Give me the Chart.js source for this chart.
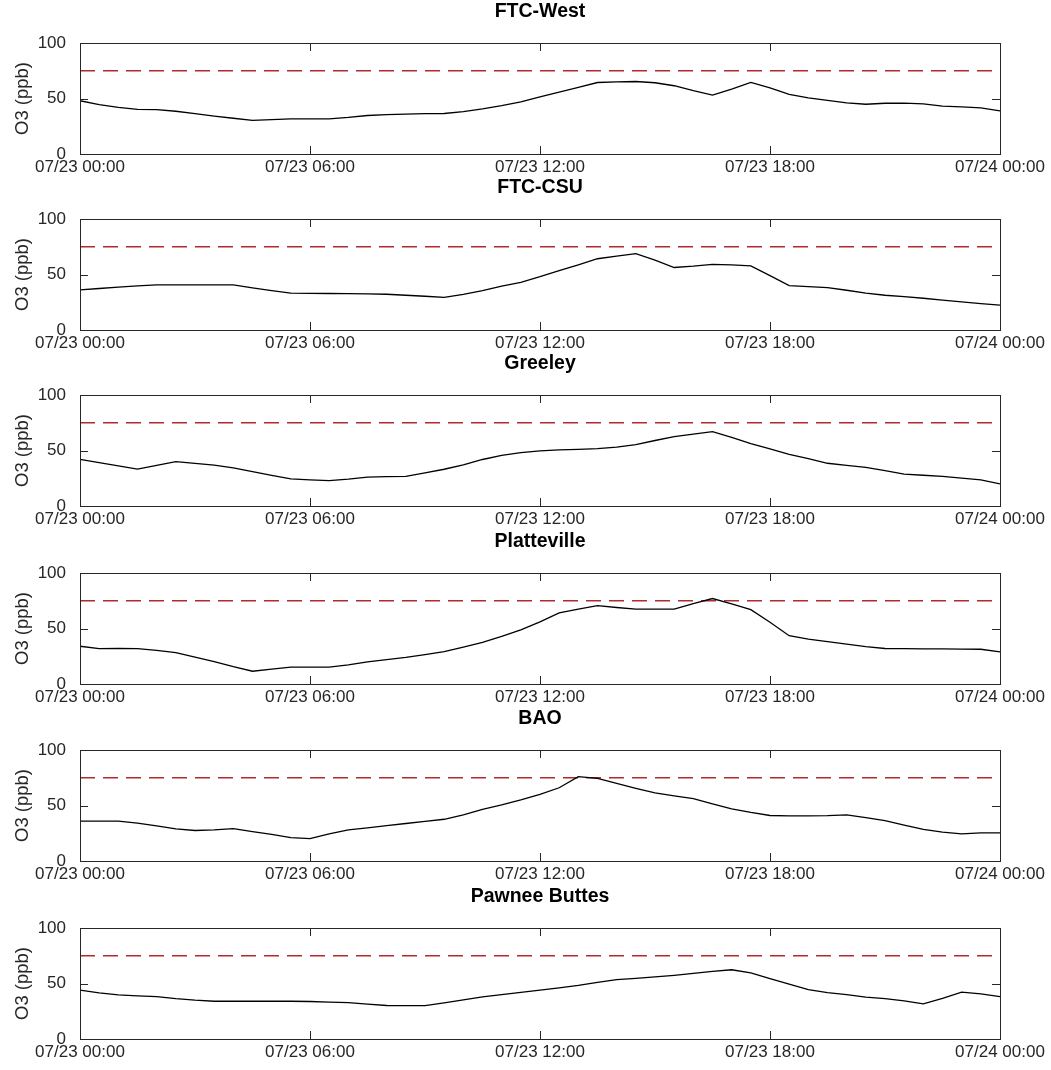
<!DOCTYPE html>
<html>
<head>
<meta charset="utf-8">
<script src="https://cdn.jsdelivr.net/npm/chart.js@4.4.1/dist/chart.umd.min.js"></script>
<style>
    body { margin: 0; background: #fff; }
    #page { position: relative; width: 1051px; height: 1070px; overflow: hidden; }
    .panel { position: absolute; left: 0; width: 1051px; height: 177px; }
</style>
</head>
<body>
<div id="page"></div>
<script>
// time of day in hours, 07/23 00:00 .. 07/24 00:00
const hours = [0, 0.5, 1, 1.5, 2, 2.5, 3, 3.5, 4, 4.5, 5, 5.5, 6, 6.5, 7, 7.5, 8, 8.5, 9, 9.5,
    10, 10.5, 11, 11.5, 12, 12.5, 13, 13.5, 14, 14.5, 15, 15.5, 16, 16.5, 17, 17.5, 18, 18.5, 19, 19.5,
    20, 20.5, 21, 21.5, 22, 22.5, 23, 23.5, 24];

const stations = ['FTC-West', 'FTC-CSU', 'Greeley', 'Platteville', 'BAO', 'Pawnee Buttes'];

// O3 (ppb)
const ftcWest = [48, 44.5, 42, 40.2, 39.9, 38.5, 36.3, 34.2, 32.2, 30.3, 31, 31.7, 31.7, 31.7, 33, 34.7, 35.4, 36, 36.3, 36.5,
    38.2, 40.6, 43.5, 47, 51.5, 55.8, 60, 64.4, 65, 65.3, 64.2, 61.5, 57, 53, 58.5, 64.5, 59.5, 53.7, 50.5, 48.3,
    46, 44.8, 45.7, 45.8, 45.2, 43.2, 42.4, 41.5, 38.8];
const ftcCsu = [36.2, 37.4, 38.6, 39.8, 40.6, 40.6, 40.6, 40.6, 40.6, 38, 35.5, 33.2, 33, 32.9, 32.7, 32.5, 32.2, 31.3, 30.4, 29.4,
    32, 35.5, 39.5, 43, 48, 53.5, 58.7, 64.2, 66.6, 68.8, 63, 56.3, 57.5, 59.2, 58.6, 57.7, 49, 40, 39, 38.1,
    35.8, 33.2, 31.3, 30, 28.6, 27, 25.3, 23.8, 22.4];
const greeley = [42, 39, 36.2, 33.3, 36.7, 40, 38.4, 36.8, 34.3, 30.9, 27.6, 24.5, 23.5, 22.8, 24.2, 26, 26.4, 26.7, 29.8, 33.1,
    37, 41.9, 45.7, 48, 49.7, 50.5, 51, 51.7, 53, 55.3, 59, 62.5, 64.8, 67, 61.8, 56.3, 51.4, 46.6, 42.6, 38.5,
    36.6, 34.8, 31.8, 28.8, 27.7, 26.6, 25.1, 23.6, 20];
const platteville = [34, 31.9, 32, 31.8, 30.3, 28.3, 24.2, 20.2, 15.6, 11.5, 13.4, 15.2, 15.2, 15.2, 17.2, 19.9, 22, 24, 26.5, 29.1,
    33.3, 37.5, 43, 48.7, 56, 64, 67.4, 70.6, 68.9, 67.5, 67.5, 67.5, 72.3, 77, 72.1, 67, 55.7, 43.5, 40.4, 38.1,
    35.9, 33.7, 32, 31.8, 31.7, 31.6, 31.4, 31.3, 29];
const bao = [36, 36, 36, 34.2, 31.6, 28.9, 27.5, 28, 29.2, 26.5, 23.9, 21, 20.1, 24.5, 28, 29.9, 31.9, 33.8, 35.7, 37.6,
    41.5, 46.5, 50.5, 55, 60, 66, 76, 74.5, 70, 65.5, 61.3, 58.7, 56.2, 51.4, 47, 43.8, 41, 40.7, 40.7, 40.8,
    41.5, 39, 36.3, 32.4, 28.4, 26, 24.5, 25.3, 25.3];
const pawnee = [44, 41.5, 39.7, 38.9, 38.2, 36.4, 35, 34, 34, 34, 34, 34, 33.8, 33.3, 32.8, 31.5, 30.2, 30, 30, 32.5,
    35.3, 37.9, 40, 42, 44, 46, 48.3, 51, 53.5, 54.7, 55.9, 57.4, 59.2, 60.9, 62.4, 59.6, 54.4, 49.5, 44.5, 41.8,
    40, 37.8, 36.3, 34.4, 31.7, 36.5, 42.3, 40.6, 38.2];

const series = [ftcWest, ftcCsu, greeley, platteville, bao, pawnee];
const threshold = 75;

const xTicks = [0, 6, 12, 18, 24];
const xTickLabels = ['07/23 00:00', '07/23 06:00', '07/23 12:00', '07/23 18:00', '07/24 00:00'];
const yTicks = [0, 50, 100];

const FONT = "'Liberation Sans', Arial, sans-serif";
const INK = '#262626';
const panelTops = [0, 176, 352, 530, 707, 885];

// box, inward tick marks and a title centred over the plot box
const framePlugin = {
    id: 'frame',
    afterDatasetsDraw(chart, args, opts) {
        const { ctx, chartArea: a, scales: { x, y } } = chart;
        const len = 8;
        ctx.save();
        ctx.strokeStyle = INK;
        ctx.lineWidth = 1;
        ctx.strokeRect(Math.round(a.left) + 0.5, Math.round(a.top) + 0.5,
            Math.round(a.right - a.left), Math.round(a.bottom - a.top));
        ctx.beginPath();
        x.ticks.forEach(t => {
            const px = Math.round(x.getPixelForValue(t.value)) + 0.5;
            ctx.moveTo(px, a.top); ctx.lineTo(px, a.top + len);
            ctx.moveTo(px, a.bottom); ctx.lineTo(px, a.bottom - len);
        });
        y.ticks.forEach(t => {
            const py = Math.round(y.getPixelForValue(t.value)) + 0.5;
            ctx.moveTo(a.left, py); ctx.lineTo(a.left + len, py);
            ctx.moveTo(a.right, py); ctx.lineTo(a.right - len, py);
        });
        ctx.stroke();

        ctx.fillStyle = '#000';
        ctx.font = `bold 19.5px ${FONT}`;
        ctx.textAlign = 'center';
        ctx.textBaseline = 'middle';
        ctx.fillText(opts.text, (a.left + a.right) / 2, a.top - 31);
        ctx.restore();
    }
};

const page = document.getElementById('page');

stations.forEach((name, i) => {
    const div = document.createElement('div');
    div.className = 'panel';
    div.style.top = panelTops[i] + 'px';
    const canvas = document.createElement('canvas');
    canvas.width = 1051;
    canvas.height = 177;
    div.appendChild(canvas);
    page.appendChild(div);

    const values = series[i];
    new Chart(canvas, {
        type: 'line',
        data: {
            datasets: [{
                data: hours.map((h, k) => ({ x: h, y: values[k] })),
                borderColor: '#000',
                borderWidth: 1.3,
                pointRadius: 0,
                tension: 0
            }, {
                data: [{ x: hours[0], y: threshold }, { x: hours[hours.length - 1], y: threshold }],
                borderColor: '#b02a2e',
                borderWidth: 1.4,
                borderDash: [15, 8],
                pointRadius: 0
            }]
        },
        options: {
            responsive: false,
            animation: false,
            devicePixelRatio: 1,
            layout: { padding: { top: 43, left: 0, right: 51, bottom: 0 } },
            plugins: {
                legend: { display: false },
                tooltip: { enabled: false },
                title: { display: false },
                frame: { text: name }
            },
            scales: {
                x: {
                    type: 'linear',
                    min: 0,
                    max: 24,
                    afterBuildTicks: s => { s.ticks = xTicks.map(v => ({ value: v })); },
                    afterFit: s => { s.height = 23; },
                    ticks: {
                        autoSkip: false,
                        maxRotation: 0,
                        padding: -3,
                        color: INK,
                        font: { family: FONT, size: 17, lineHeight: 1 },
                        callback: v => xTickLabels[xTicks.indexOf(v)]
                    },
                    grid: { display: false },
                    border: { display: false }
                },
                y: {
                    min: 0,
                    max: 100,
                    afterBuildTicks: s => { s.ticks = yTicks.map(v => ({ value: v })); },
                    afterFit: s => { s.width = 80; },
                    ticks: {
                        padding: 6,
                        color: INK,
                        font: { family: FONT, size: 17 }
                    },
                    title: {
                        display: true,
                        text: 'O3 (ppb)',
                        color: INK,
                        font: { family: FONT, size: 18.5 },
                        padding: { top: 12, bottom: 0 }
                    },
                    grid: { display: false },
                    border: { display: false }
                }
            }
        },
        plugins: [framePlugin]
    });
});
</script>
</body>
</html>
